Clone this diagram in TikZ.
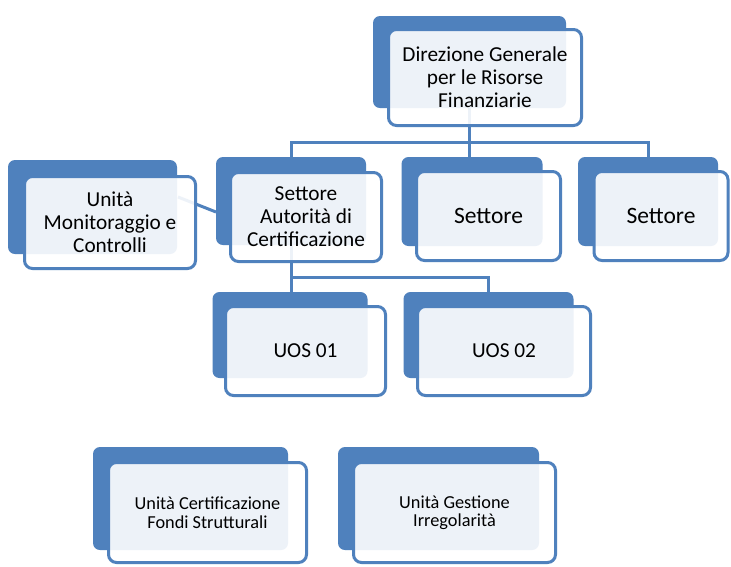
\documentclass[tikz,border=0pt]{standalone}
\usepackage{fontspec}
\setmainfont{Carlito}
\usetikzlibrary{calc}
\pgfdeclarelayer{bg}
\pgfdeclarelayer{canvas}
\pgfsetlayers{canvas,bg,main}
\definecolor{obl}{HTML}{4F81BD}
\tikzset{
  backbox/.style={fill=obl, draw=none, rounded corners=7pt, inner sep=0pt, outer sep=0pt},
  frontbox/.style={fill=white, fill opacity=0.9, text opacity=1, draw=obl, line width=3pt,
    rounded corners=8pt, inner sep=0pt, align=center, text=black},
  conn/.style={draw=obl, line width=3pt},
  big/.style={font=\fontsize{21.3}{23}\selectfont},
  small/.style={font=\fontsize{18.3}{18.5}\selectfont},
  huge/.style={font=\fontsize{23.5}{25}\selectfont},
}
\begin{document}
\begin{tikzpicture}[x=1pt,y=-1pt]
\begin{pgfonlayer}{canvas}
\useasboundingbox[fill=white] (0,0) rectangle (731,566);
\end{pgfonlayer}
% back boxes
\node[backbox, minimum width=193pt, minimum height=92pt] (dgB) at (469.5,62) {};
\node[backbox, minimum width=169pt, minimum height=94pt] (monB) at (92.5,207) {};
\node[backbox, minimum width=150pt, minimum height=88pt] (adcB) at (291,201) {};
\node[backbox, minimum width=141pt, minimum height=89pt] (s2B) at (472,201.5) {};
\node[backbox, minimum width=140pt, minimum height=89pt] (s3B) at (648,201.5) {};
\node[backbox, minimum width=155pt, minimum height=86pt] (u1B) at (290,335) {};
\node[backbox, minimum width=170pt, minimum height=86pt] (u2B) at (488.5,335) {};
\node[backbox, minimum width=195pt, minimum height=103pt] (ucB) at (190.5,498.5) {};
\node[backbox, minimum width=201pt, minimum height=103pt] (ugB) at (438.5,498.5) {};
% front boxes
\node[frontbox, big, minimum width=193pt, minimum height=96pt] (dg) at (485,77.5) {Direzione Generale\\per le Risorse\\Finanziarie};
\node[frontbox, big, minimum width=171pt, minimum height=92pt] (mon) at (110,222.5) {Unità\\Monitoraggio e\\Controlli};
\node[frontbox, big, minimum width=151pt, minimum height=89pt] (adc) at (306,217) {Settore\\Autorità di\\Certificazione};
\node[frontbox, huge, minimum width=144pt, minimum height=89pt] (s2) at (488.5,216) {Settore};
\node[frontbox, huge, minimum width=134pt, minimum height=89pt] (s3) at (661,216) {Settore};
\node[frontbox, big, minimum width=160pt, minimum height=89pt] (u1) at (305.5,351) {UOS 01};
\node[frontbox, big, minimum width=173pt, minimum height=89pt] (u2) at (504,351) {UOS 02};
\node[frontbox, small, minimum width=198pt, minimum height=100pt] (uc) at (207.5,512.5) {Unità Certificazione\\Fondi Strutturali};
\node[frontbox, small, minimum width=202pt, minimum height=100pt] (ug) at (454.5,512.5) {Unità Gestione\\Irregolarità};
% connectors
\coordinate (bus1) at (0,142);
\coordinate (bus2) at (0,277);
\coordinate (m1) at (178,197);
\begin{pgfonlayer}{bg}
\draw[conn] (dgB.south) -- (dgB.south |- s2B.north);
\draw[conn] (dgB.south |- bus1) -| (adcB.north);
\draw[conn] (dgB.south |- bus1) -| (s3B.north);
\draw[conn] (adcB.south) -- (adcB.south |- bus2);
\draw[conn] (adcB.south |- bus2) -- (u1B.north -| adcB.south);
\draw[conn] (adcB.south |- bus2) -| (u2B.north);
\draw[conn] (m1) -- ([yshift=-11pt]adcB.west);
\end{pgfonlayer}
\end{tikzpicture}
\end{document}
